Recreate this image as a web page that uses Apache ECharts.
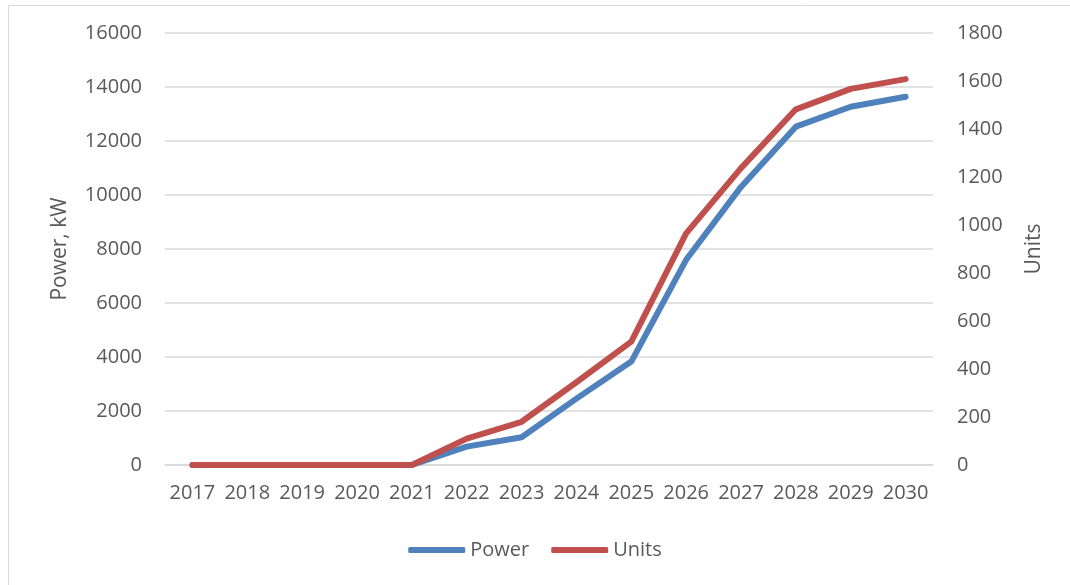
<!DOCTYPE html>
<html>
<head>
<meta charset="utf-8">
<script src="https://cdn.jsdelivr.net/npm/echarts@6/dist/echarts.min.js"></script>
<style>
  html, body { margin: 0; padding: 0; background: #ffffff; }
  #chart { width: 1070px; height: 585px; }
</style>
</head>
<body>
<div id="chart"></div>
<script>
// Years on the category axis
const years = ['2017', '2018', '2019', '2020', '2021', '2022', '2023',
               '2024', '2025', '2026', '2027', '2028', '2029', '2030'];

// Installed power, kW (left axis)
const powerKW = [0, 0, 0, 0, 0, 680, 1030, 2460, 3830, 7600, 10300, 12530, 13270, 13640];

// Number of units (right axis)
const units = [0, 0, 0, 0, 0, 110, 180, 345, 514, 965, 1237, 1482, 1567, 1608];

const FONT = '"Open Sans", "Liberation Sans", sans-serif';
const TEXT = '#595959';
const GRID = '#d9d9d9';

// plain integers, no thousands separator
const plain = v => String(v);

const chart = echarts.init(document.getElementById('chart'), null, { renderer: 'canvas' });

chart.setOption({
  backgroundColor: '#ffffff',
  animation: false,
  textStyle: { fontFamily: FONT },
  graphic: [{
    type: 'rect',
    shape: { x: 8.5, y: 5.5, width: 1080, height: 600 },
    style: { fill: 'none', stroke: '#d9d9d9', lineWidth: 1 },
    silent: true
  }],
  grid: { left: 165, right: 137, top: 33, bottom: 120 },
  legend: {
    bottom: 20,
    left: 'center',
    icon: 'roundRect',
    itemWidth: 57,
    itemHeight: 6,
    itemGap: 22,
    textStyle: { color: TEXT, fontSize: 20, fontFamily: FONT },
    data: ['Power', 'Units']
  },
  xAxis: {
    type: 'category',
    data: years,
    boundaryGap: true,
    axisLine: { show: true, lineStyle: { color: GRID, width: 1.5 } },
    axisTick: { show: false },
    axisLabel: { color: TEXT, fontSize: 20, fontFamily: FONT, margin: 18, interval: 0 }
  },
  yAxis: [{
    type: 'value',
    name: 'Power, kW',
    nameLocation: 'middle',
    nameGap: 94,
    nameRotate: 90,
    nameTextStyle: { color: TEXT, fontSize: 21, fontFamily: FONT },
    min: 0,
    max: 16000,
    interval: 2000,
    axisLine: { show: false },
    axisTick: { show: false },
    axisLabel: { color: TEXT, fontSize: 20, fontFamily: FONT, margin: 23, formatter: plain },
    splitLine: { show: true, lineStyle: { color: GRID, width: 1.5 } }
  }, {
    type: 'value',
    name: 'Units',
    nameLocation: 'middle',
    nameGap: 91,
    nameRotate: 90,
    nameTextStyle: { color: TEXT, fontSize: 21, fontFamily: FONT },
    min: 0,
    max: 1800,
    interval: 200,
    axisLine: { show: false },
    axisTick: { show: false },
    axisLabel: { color: TEXT, fontSize: 20, fontFamily: FONT, margin: 24, formatter: plain },
    splitLine: { show: false }
  }],
  series: [{
    name: 'Power',
    type: 'line',
    yAxisIndex: 0,
    data: powerKW,
    symbol: 'none',
    color: '#4f81bd',
    lineStyle: { width: 6, color: '#4f81bd', cap: 'round', join: 'round' }
  }, {
    name: 'Units',
    type: 'line',
    yAxisIndex: 1,
    data: units,
    symbol: 'none',
    color: '#c0504d',
    lineStyle: { width: 6, color: '#c0504d', cap: 'round', join: 'round' }
  }]
});
</script>
</body>
</html>
